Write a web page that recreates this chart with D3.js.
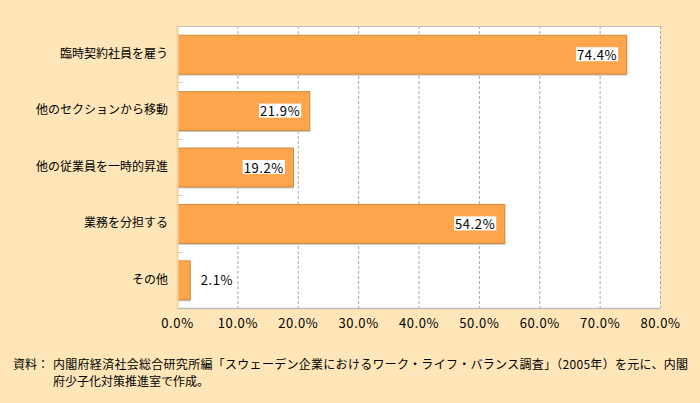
<!DOCTYPE html>
<html><head><meta charset="utf-8">
<script src="https://cdn.jsdelivr.net/npm/d3@7"></script>
<style>
html,body{margin:0;padding:0;background:#FEE6B8;}
svg{display:block;}
text{font-family:"Noto Sans CJK JP","Noto Sans",sans-serif;}
</style></head>
<body>
<script>
const categories = ["臨時契約社員を雇う","他のセクションから移動","他の従業員を一時的昇進","業務を分担する","その他"];
const values = [74.4, 21.9, 19.2, 54.2, 2.1];
const ticks = [0,10,20,30,40,50,60,70,80];
const noteHead = "資料：";
const noteLines = ["内閣府経済社会総合研究所編「スウェーデン企業におけるワーク・ライフ・バランス調査」（2005年）を元に、内閣",
                   "府少子化対策推進室で作成。"];

const W=700,H=403;
const m={left:177,right:40,top:26,bottom:95};
const svg=d3.select("body").append("svg").attr("width",W).attr("height",H);
svg.append("rect").attr("width",W).attr("height",H).attr("fill","#FEE6B8");

const x=d3.scaleLinear().domain([0,80]).range([m.left,660]);
const y=d3.scaleBand().domain(categories).range([m.top,308]).paddingInner(0.31).paddingOuter(0.155);

svg.append("rect").attr("x",x(0)).attr("y",m.top).attr("width",x(80)-x(0)).attr("height",308-m.top).attr("fill","#fff");

// gridlines
svg.append("g").selectAll("line").data(ticks.slice(1)).join("line")
 .attr("x1",d=>x(d)+0.5).attr("x2",d=>x(d)+0.5).attr("y1",m.top).attr("y2",308)
 .attr("stroke","#a8a8a8").attr("stroke-dasharray","3,2");
// top border
svg.append("line").attr("x1",x(0)).attr("x2",x(80)).attr("y1",m.top+0.5).attr("y2",m.top+0.5).attr("stroke","#c0c0c0");

// bars
svg.append("g").selectAll("rect.shadow").data(values).join("rect")
 .attr("x",x(0)+1).attr("y",(d,i)=>y(categories[i])+2).attr("width",d=>x(d)-x(0)).attr("height",y.bandwidth())
 .attr("fill","#c8c8c8");
svg.append("g").selectAll("rect.bar").data(values).join("rect")
 .attr("x",x(0)+0.5).attr("y",(d,i)=>y(categories[i])+0.5).attr("width",d=>x(d)-x(0)).attr("height",y.bandwidth())
 .attr("fill","#FFA64C").attr("stroke","#D08A3A");

// axes
const xAxis=svg.append("g").attr("transform",`translate(0,308)`)
 .call(d3.axisBottom(x).tickValues(ticks).tickSize(0).tickPadding(11).tickFormat(d=>d.toFixed(1)+"%"));
xAxis.select(".domain").attr("stroke","#bdbdbd").attr("stroke-width",1.5);
xAxis.selectAll("text").attr("font-size",13).attr("letter-spacing",0.6).attr("fill","#000");

const yAxis=svg.append("g").attr("transform",`translate(${x(0)},0)`)
 .call(d3.axisLeft(y).tickSize(0).tickPadding(9));
yAxis.select(".domain").attr("stroke","#EED3A0").attr("stroke-width",2);
yAxis.selectAll("text").attr("font-size",12).attr("fill","#000");

// small ticks at band boundaries
const bounds=categories.slice(1).map(c=>y(c)-y.step()*y.paddingInner()/2);
svg.append("g").selectAll("line").data(bounds).join("line")
 .attr("x1",x(0)).attr("x2",x(0)+6).attr("y1",d=>Math.round(d)+0.5).attr("y2",d=>Math.round(d)+0.5).attr("stroke","#d0d0d0");

// labels
const lg=svg.append("g");
values.forEach((v,i)=>{
  const cy=y(categories[i])+y.bandwidth()/2;
  const inside=(x(v)-x(0))>50;
  const t=lg.append("text").attr("font-size",13).attr("letter-spacing",0.6).attr("fill","#000").attr("dominant-baseline","central")
    .attr("y",cy).text(v.toFixed(1)+"%");
  if(inside){
    t.attr("text-anchor","end").attr("x",x(v)-9);
    const bb=t.node().getBBox();
    lg.insert("rect","text").attr("x",bb.x-1).attr("y",cy-7).attr("width",bb.width+2).attr("height",14).attr("fill","#fff");
  } else {
    t.attr("text-anchor","start").attr("x",x(v)+11);
  }
});
lg.selectAll("text").raise();

// note
svg.append("text").attr("x",13).attr("y",369).attr("font-size",12).attr("fill","#000").text(noteHead);
svg.append("g").selectAll("text").data(noteLines).join("text")
 .attr("x",53).attr("y",(d,i)=>369+i*17).attr("font-size",12).attr("fill","#000")
 .each(function(d,i){ if(i===0) d3.select(this).attr("textLength",635).attr("lengthAdjust","spacing"); })
 .text(d=>d);
</script>
</body></html>
